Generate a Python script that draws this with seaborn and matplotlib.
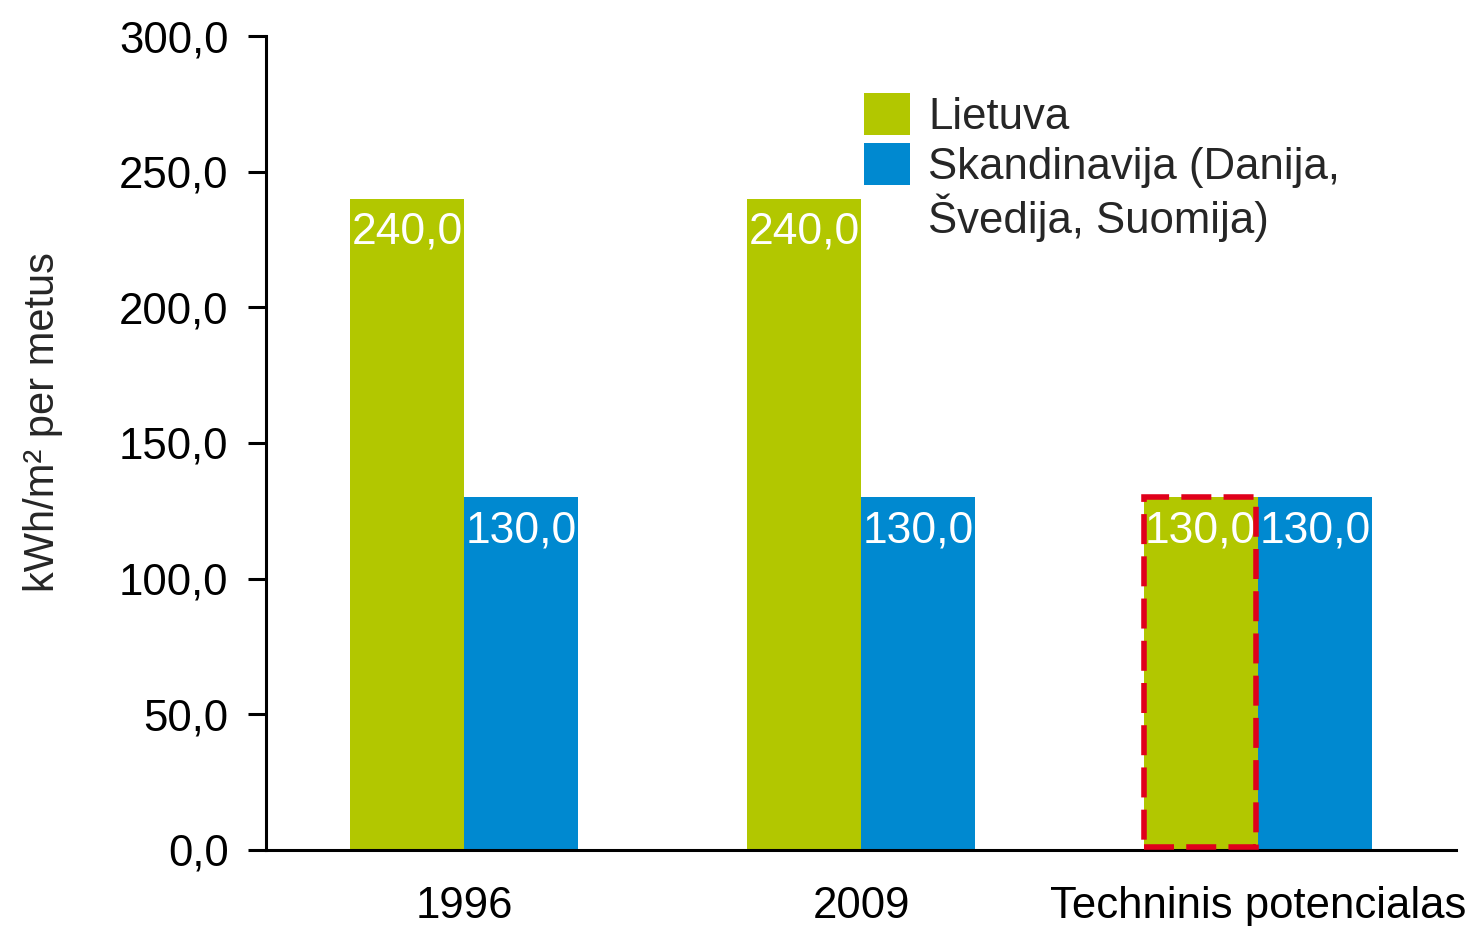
import matplotlib
matplotlib.use("Agg")
import matplotlib.pyplot as plt
from matplotlib.patches import Patch, Rectangle
import pandas as pd
import seaborn as sns

# Heating energy use per square metre
categories = ["1996", "2009", "Techninis potencialas"]
series_names = ["Lietuva", "Skandinavija (Danija, Švedija, Suomija)"]
lietuva = [240.0, 240.0, 130.0]
skandinavija = [130.0, 130.0, 130.0]
y_ticks = [0, 50, 100, 150, 200, 250, 300]

GREEN = "#B2C700"
BLUE = "#0089D0"
RED = "#E0001B"
FS = 31.5

sns.set_theme(style="white")
plt.rcParams["font.family"] = ["Liberation Sans", "DejaVu Sans"]

df = pd.DataFrame({
    "category": categories * 2,
    "series": [series_names[0]] * len(categories) + [series_names[1]] * len(categories),
    "value": lietuva + skandinavija,
})

fig = plt.figure(figsize=(14.69, 9.26), dpi=100)
ax = fig.add_axes([0.1811, 0.0821, 0.9912 - 0.1811, 0.9611 - 0.0821])

sns.barplot(data=df, x="category", y="value", hue="series",
            palette=[GREEN, BLUE], saturation=1, width=0.575, linewidth=0,
            order=categories, hue_order=series_names, ax=ax, legend=False)

ax.set_xlim(-0.5, 2.5)
ax.set_ylim(0, 300)
ax.set_yticks(y_ticks)
ax.set_yticklabels([f"{v:.1f}".replace(".", ",") for v in y_ticks], fontsize=FS,
                   va="center_baseline")
ax.set_xticks(range(len(categories)))
ax.set_xticklabels(categories, fontsize=FS)
ax.set_xticks([-0.5], minor=True)
ax.tick_params(axis="x", which="major", length=0, pad=26, colors="black")
ax.tick_params(axis="x", which="minor", length=13, width=2.2, direction="out", color="black")
ax.tick_params(axis="y", length=13, width=2.2, direction="out", pad=14, colors="black", left=True)

for side in ("top", "right"):
    ax.spines[side].set_visible(False)
for side in ("left", "bottom"):
    ax.spines[side].set_color("black")
    ax.spines[side].set_linewidth(2.2)

ax.set_xlabel("")
ax.set_ylabel("kWh/m² per metus", fontsize=30)
ax.yaxis.set_label_coords(-0.171, 0.526)

# Value labels just inside the top of each bar
for cont in ax.containers:
    ax.bar_label(cont, labels=[f"{b.get_height():.1f}".replace(".", ",") for b in cont],
                 padding=-39, color="white", fontsize=32)

# Technical potential bar outlined with a red dashed frame, drawn just inside the bar
target = ax.containers[0][2]
inset_x = target.get_width() * 0.015
inset_y = 1.0
frame = Rectangle((target.get_x() + inset_x * 0.2, inset_y),
                  target.get_width() - inset_x, target.get_height() - inset_y,
                  fill=False, edgecolor=RED, linewidth=4.0,
                  linestyle=(0, (5.4, 2.2)), zorder=3)
ax.add_patch(frame)

handles = [Patch(facecolor=GREEN, edgecolor="none"),
           Patch(facecolor=BLUE, edgecolor="none"),
           Patch(facecolor="none", edgecolor="none")]
labels = ["Lietuva", "Skandinavija (Danija,", "Švedija, Suomija)"]
ax.legend(handles, labels, loc="upper left", bbox_to_anchor=(0.5025, 0.93),
          frameon=False, fontsize=FS, handlelength=1.05, handleheight=1.1,
          handletextpad=0.42, labelspacing=0.12, borderpad=0, borderaxespad=0)

fig.savefig("out.png", dpi=100, facecolor="white")
